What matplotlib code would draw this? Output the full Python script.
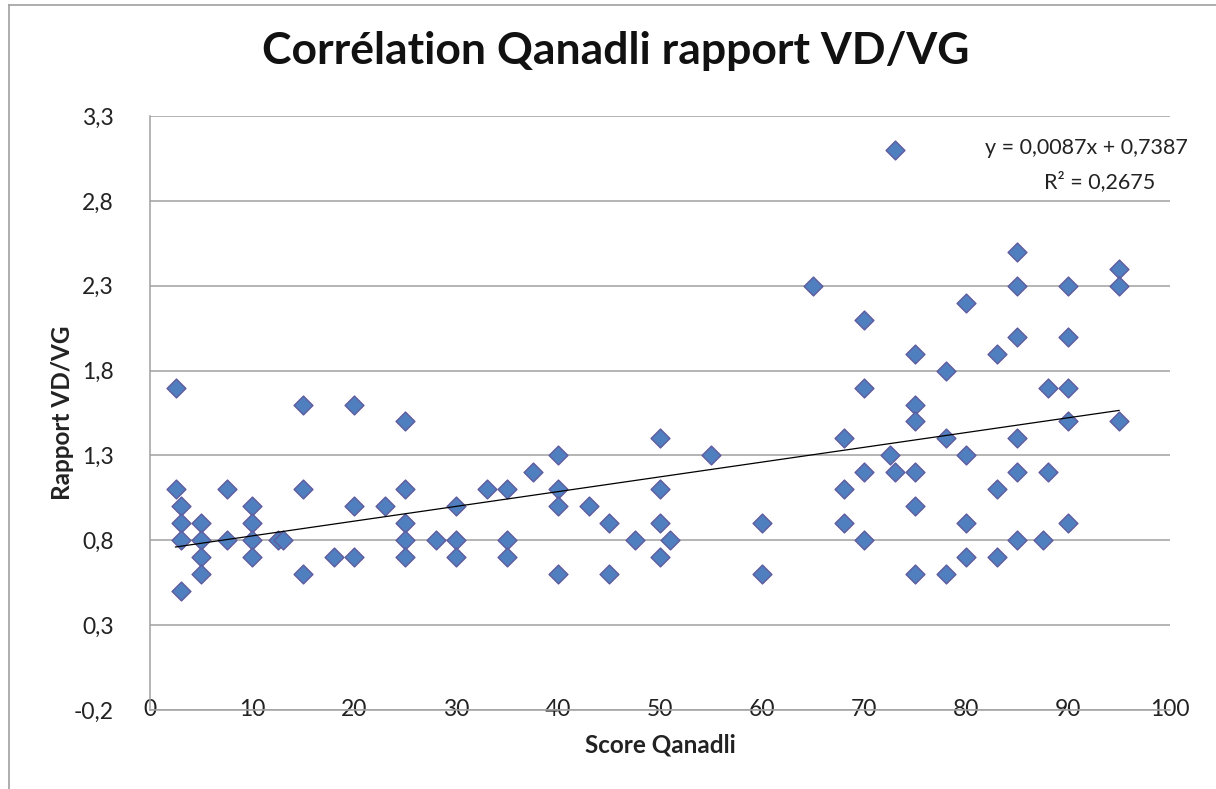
import numpy as np
from matplotlib import pyplot as plt
from matplotlib.lines import Line2D

# Score Qanadli / rapport VD-VG par patient
score = [2.5, 2.5, 3, 3, 3, 3,
         5, 5, 5, 5,
         7.5, 7.5,
         10, 10, 10, 10,
         12.5, 13,
         15, 15, 15,
         18,
         20, 20, 20,
         23,
         25, 25, 25, 25, 25,
         28,
         30, 30, 30,
         33,
         35, 35, 35,
         37.5,
         40, 40, 40, 40,
         43,
         45, 45,
         47.5,
         50, 50, 50, 50,
         51,
         55,
         60, 60,
         65,
         68, 68, 68,
         70, 70, 70, 70,
         72.5, 73, 73,
         75, 75, 75, 75, 75, 75,
         78, 78, 78,
         80, 80, 80, 80,
         83, 83, 83,
         85, 85, 85, 85, 85, 85,
         87.5,
         88, 88,
         90, 90, 90, 90, 90,
         95, 95, 95]
rapport = [1.7, 1.1, 1.0, 0.9, 0.8, 0.5,
           0.9, 0.8, 0.7, 0.6,
           1.1, 0.8,
           1.0, 0.9, 0.8, 0.7,
           0.8, 0.8,
           1.6, 1.1, 0.6,
           0.7,
           1.6, 1.0, 0.7,
           1.0,
           1.5, 1.1, 0.9, 0.8, 0.7,
           0.8,
           1.0, 0.8, 0.7,
           1.1,
           1.1, 0.8, 0.7,
           1.2,
           1.3, 1.1, 1.0, 0.6,
           1.0,
           0.9, 0.6,
           0.8,
           1.4, 1.1, 0.9, 0.7,
           0.8,
           1.3,
           0.9, 0.6,
           2.3,
           1.4, 1.1, 0.9,
           2.1, 1.7, 1.2, 0.8,
           1.3, 1.2, 3.1,
           1.9, 1.6, 1.5, 1.2, 1.0, 0.6,
           1.8, 1.4, 0.6,
           2.2, 1.3, 0.9, 0.7,
           1.9, 1.1, 0.7,
           2.5, 2.3, 2.0, 1.4, 1.2, 0.8,
           0.8,
           1.7, 1.2,
           2.3, 2.0, 1.7, 1.5, 0.9,
           2.4, 2.3, 1.5]

# droite de tendance (Excel)
pente = 0.0087
origine = 0.7387
r2 = 0.2675

x_ticks = list(range(0, 101, 10))
y_ticks = [-0.2, 0.3, 0.8, 1.3, 1.8, 2.3, 2.8, 3.3]


def fr(v: float) -> str:
    return f"{v:.1f}".replace(".", ",")


def main() -> None:
    plt.rcParams["font.family"] = ["Lato", "DejaVu Sans"]
    grey = "#a0a0a0"
    ink = "#222222"

    fig = plt.figure(figsize=(12.16, 7.89), dpi=100)
    ax = fig.add_axes([150 / 1216, 1 - 710 / 789, 1020 / 1216, 594 / 789])

    ax.set_xlim(0, 100)
    ax.set_ylim(-0.2, 3.3)
    ax.set_yticks(y_ticks, [fr(v) for v in y_ticks])
    ax.set_xticks(x_ticks, [str(v) for v in x_ticks])
    ax.tick_params(axis="both", length=0, labelsize=16.5, colors=ink)
    ax.tick_params(axis="y", pad=26)
    ax.tick_params(axis="x", pad=0)
    for lbl in ax.get_xticklabels():
        lbl.set_va("center")

    ax.grid(axis="y", color=grey, linewidth=1.1)
    ax.set_axisbelow(True)
    for side in ("top", "right"):
        ax.spines[side].set_visible(False)
    for side in ("left", "bottom"):
        ax.spines[side].set_color(grey)
        ax.spines[side].set_linewidth(1.1)

    ax.scatter(score, rapport, marker="D", s=9.6 ** 2,
               facecolor="#4f7fbe", edgecolor="#5f5b9e", linewidth=1.0,
               zorder=3, clip_on=False)

    xs = np.array([min(score), max(score)])
    ax.plot(xs, pente * xs + origine, color="black", linewidth=0.9, zorder=4)

    eq = f"y = {pente:.4f}x + {origine:.4f}".replace(".", ",")
    ax.text(91.8, 3.112, eq, ha="center", va="center", fontsize=15.5,
            color=ink, clip_on=False)
    ax.text(93.1, 2.911, f"R² = {r2:.4f}".replace(".", ","), ha="center",
            va="center", fontsize=15.5, color=ink, clip_on=False)

    ax.set_xlabel("Score Qanadli", fontsize=17.5, fontweight="bold",
                  color=ink)
    ax.xaxis.set_label_coords(0.5, -0.040)
    ax.set_ylabel("Rapport VD/VG", fontsize=17.5, fontweight="bold",
                  color=ink)
    ax.yaxis.set_label_coords(-0.0745, 0.5)

    fig.text(0.506, 1 - 51 / 789, "Corrélation Qanadli rapport VD/VG",
             ha="center", va="center", fontsize=32, fontweight="bold",
             color="#111111")

    # cadre du graphique
    fig.add_artist(Line2D([9 / 1216, 1], [1 - 5 / 789] * 2,
                          transform=fig.transFigure, color=grey, linewidth=1.2))
    fig.add_artist(Line2D([9 / 1216] * 2, [0, 1 - 5 / 789],
                          transform=fig.transFigure, color=grey, linewidth=1.2))

    fig.savefig("out.png", dpi=100)


if __name__ == "__main__":
    main()
